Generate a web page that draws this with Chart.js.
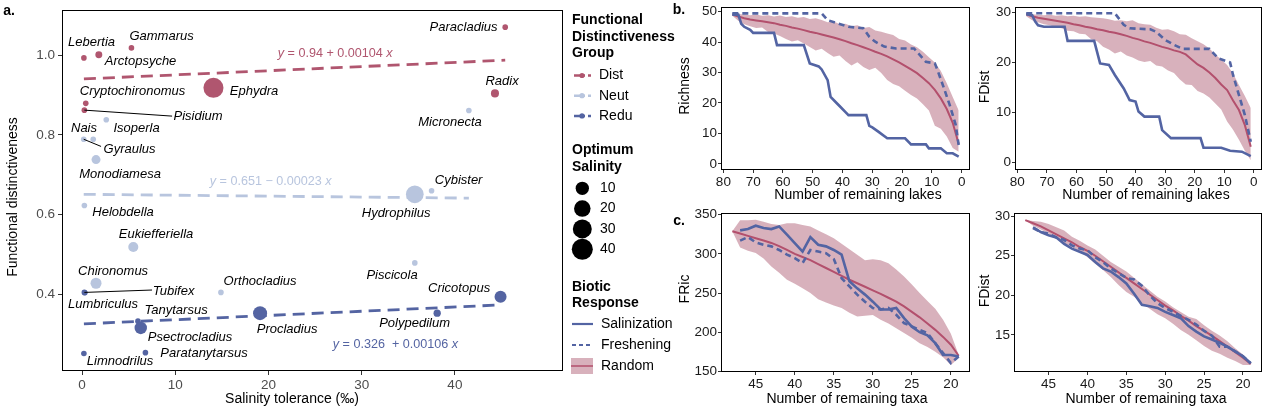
<!DOCTYPE html>
<html>
<head>
<meta charset="utf-8">
<script src="https://cdn.jsdelivr.net/npm/chart.js@4.4.1/dist/chart.umd.min.js"></script>
<style>
  html, body { margin: 0; padding: 0; background: #fff; }
  #wrap { position: relative; width: 1267px; height: 406px; overflow: hidden; }
  #wrap canvas { position: absolute; }
</style>
</head>
<body>
<div id="wrap">
  <canvas id="chartA" width="700" height="406" style="left:0;top:0"></canvas>
  <canvas id="chartB1" width="310" height="205" style="left:665px;top:0"></canvas>
  <canvas id="chartB2" width="299" height="205" style="left:968px;top:0"></canvas>
  <canvas id="chartC1" width="310" height="211" style="left:665px;top:195px"></canvas>
  <canvas id="chartC2" width="299" height="211" style="left:968px;top:195px"></canvas>
</div>
<script>
// ---- panel a: taxa ----
const taxa = ['Lebertia', 'Arctopsyche', 'Gammarus', 'Paracladius', 'Ephydra', 'Cryptochironomus', 'Pisidium', 'Radix',
  'Micronecta', 'Isoperla', 'Gyraulus', 'Nais', 'Monodiamesa', 'Hydrophilus', 'Cybister', 'Helobdella', 'Eukiefferiella',
  'Chironomus', 'Orthocladius', 'Piscicola',
  'Tubifex', 'Lumbriculus', 'Tanytarsus', 'Psectrocladius', 'Procladius', 'Polypedilum', 'Cricotopus', 'Limnodrilus', 'Paratanytarsus'];
const fdGroup = ['Dist', 'Dist', 'Dist', 'Dist', 'Dist', 'Dist', 'Dist', 'Dist',
  'Neut', 'Neut', 'Neut', 'Neut', 'Neut', 'Neut', 'Neut', 'Neut', 'Neut', 'Neut', 'Neut', 'Neut',
  'Redu', 'Redu', 'Redu', 'Redu', 'Redu', 'Redu', 'Redu', 'Redu', 'Redu'];
const salTolerance = [0.2, 1.8, 5.3, 45.4, 14.1, 0.4, 0.25, 44.3,
  41.5, 2.6, 0.18, 1.2, 1.5, 35.7, 37.5, 0.25, 5.5, 1.5, 14.9, 35.7,
  0.25, 0.3, 6.0, 6.3, 19.1, 38.1, 44.9, 0.2, 6.8];
const funcDist = [0.993, 1.001, 1.018, 1.070, 0.918, 0.879, 0.862, 0.904,
  0.861, 0.838, 0.789, 0.789, 0.738, 0.651, 0.660, 0.623, 0.519, 0.428, 0.405, 0.479,
  0.405, 0.404, 0.333, 0.316, 0.353, 0.353, 0.394, 0.252, 0.254];
const optSalinity = [0, 0.3, 0, 0, 35, 0, 0, 1,
  0, 0, 0, 0, 1.9, 24.6, 0, 0, 3.3, 4.9, 0, 0,
  0, 0, 0, 7.8, 11.9, 0.5, 6.9, 0, 0];
// label anchors (data units) and leader lines
const labelX = [1.02, 6.28, 8.53, 40.93, 18.45, 5.42, 12.45, 45.06,
  39.48, 5.85, 5.10, 0.21, 4.08, 33.69, 40.4, 4.40, 7.94, 3.33, 19.10, 33.26,
  9.82, 2.25, 10.09, 11.59, 22.0, 35.68, 40.45, 4.08, 13.09];
const labelY = [1.031, 0.983, 1.048, 1.070, 0.909, 0.909, 0.847, 0.934,
  0.832, 0.817, 0.764, 0.817, 0.702, 0.603, 0.685, 0.605, 0.550, 0.458, 0.433, 0.448,
  0.408, 0.376, 0.359, 0.292, 0.312, 0.327, 0.416, 0.232, 0.252];
const leaderTo = { Pisidium: [9.66, 0.847], Gyraulus: [2.04, 0.771], Tubifex: [7.51, 0.411] };

// regression fits
const fitGroups = ['Dist', 'Neut', 'Redu'];
const fitIntercept = [0.94, 0.651, 0.326];
const fitSlope = [0.00104, -0.00023, 0.00106];
const fitText = [' = 0.94 + 0.00104 ', ' = 0.651 \u2212 0.00023 ', ' = 0.326  + 0.00106 '];
const fitLabelX = [21.0, 13.7, 26.9];
const fitLabelY = [1.004, 0.682, 0.275];

const sizeBreaks = [10, 20, 30, 40];
const aTicksX = [0, 10, 20, 30, 40];
const aTicksY = [0.4, 0.6, 0.8, 1.0];

// ---- panel b: lakes removed ----
const salB1X = [77, 75, 74, 73, 71, 70, 63, 62, 53, 51, 48, 47, 45, 44, 42, 41, 39, 38, 32, 31, 30, 28, 25, 19, 17, 12, 11, 7, 5, 3, 1];
const salB1Y = [49, 49, 46, 45, 44, 43, 43, 39, 39, 33, 32, 31, 27.5, 22, 20, 19, 17, 16, 16, 12.5, 12, 10.6, 8.4, 8.4, 6.4, 6.4, 5.1, 5.1, 3.5, 3.5, 2.4];
const freshB1X = [77, 47, 45, 38, 33, 31, 29, 26, 22, 16, 14, 12, 9, 8, 6, 4, 2, 1];
const freshB1Y = [49.4, 49.4, 47.2, 45, 44.5, 41.7, 40.1, 38.5, 37.9, 37.9, 35.7, 33.5, 33, 30.5, 25, 19.3, 12.8, 6.2];
const lakesX = [77, 75, 73, 71, 69, 67, 65, 63, 61, 59, 57, 55, 53, 51, 49, 47, 45, 43, 41, 39, 37, 35, 33, 31, 29, 27, 25, 23, 21, 19, 17, 15, 13, 11, 9, 7, 5, 3, 1];
const meanB1 = [49, 48.4, 47.8, 47.4, 47.1, 46.8, 46.5, 46.2, 45.7, 45.3, 44.8, 44.4, 43.9, 43.4, 43, 42.5, 42, 41.5, 40.9, 40.3, 39.6, 39, 38.3, 37.6, 36.8, 36.1, 35.3, 34.3, 33.3, 32.2, 31, 29.8, 28.2, 26.5, 24.3, 21.5, 18, 13.5, 6.5];
const upB1 = [49.3, 49.2, 49, 48.8, 49, 48.6, 48.8, 48.4, 48.7, 48.2, 48.5, 48, 48.2, 47.6, 47.8, 47.2, 46.5, 46.8, 45.8, 46, 45.2, 45.5, 44.6, 44.9, 43.8, 43.4, 42.8, 42.3, 41, 40.5, 39.2, 38.3, 36.8, 35, 33.3, 30.5, 26.5, 22, 17.5];
const loB1 = [48.6, 47, 45.8, 45.2, 44.6, 44.8, 43.3, 42.8, 42, 41, 40.2, 40.6, 39.5, 38.4, 37.2, 37.8, 36.4, 35.2, 35.6, 33.8, 32.3, 33.4, 31.8, 30.8, 31.6, 29.8, 27.5, 26.2, 25.5, 24, 22.6, 21.5, 19.6, 17.5, 12.5, 11.5, 9, 5.2, 4];

const salB2X = [77, 75, 74, 73, 71, 64, 63, 54, 52, 49, 47, 44, 42, 40, 39, 37, 32, 31, 28, 18, 17, 11, 8, 4, 1];
const salB2Y = [29.6, 29.4, 28.2, 27.4, 27.1, 27.1, 24.3, 24.3, 19.8, 19.5, 17.5, 14.8, 12.5, 12.2, 10.2, 9.2, 9.2, 6.5, 4.9, 4.9, 3, 3, 2.4, 2.2, 1.3];
const freshB2X = [77, 47, 44, 42, 35, 33, 30, 27, 24, 15, 12, 8, 7, 5, 3, 1];
const freshB2Y = [29.8, 29.8, 27.5, 26.8, 26.6, 26.1, 24.5, 23.5, 22.7, 22.7, 20.8, 20, 17.5, 13.5, 9.5, 4.2];
const meanB2 = [29.6, 29.2, 28.9, 28.7, 28.5, 28.3, 28.1, 27.9, 27.6, 27.4, 27.1, 26.9, 26.6, 26.4, 26.1, 25.9, 25.6, 25.3, 24.9, 24.6, 24.2, 23.9, 23.5, 23.1, 22.8, 22.4, 22.1, 21.6, 20.6, 19.6, 18.9, 18, 16.9, 15.6, 14.5, 12.4, 10.5, 7.5, 3.2];
const upB2 = [29.8, 29.6, 29.5, 29.4, 29.5, 29.3, 29.4, 29.2, 29.3, 29.1, 29.2, 29, 28.9, 28.8, 28.6, 28.3, 28.4, 28.2, 28.4, 27.8, 27.6, 27.5, 26.9, 26.5, 26.6, 26.2, 25.6, 25.5, 24.8, 24.2, 23.6, 22.8, 21.6, 20.6, 19.5, 17.8, 15.5, 13.3, 10.9];
const loB2 = [29.2, 28.4, 28, 27.6, 27.4, 27, 26.8, 26.3, 26.2, 25.7, 25.6, 24.6, 24.2, 23.1, 22.6, 21.8, 22.2, 21.4, 21, 20.4, 20.1, 20.3, 19.4, 19.2, 18.4, 17.9, 16.6, 15.6, 15.5, 14.3, 13.8, 13, 11.8, 10.6, 8.2, 6.6, 4.6, 2.4, 0.5];

// ---- panel c: taxa removed ----
const taxaX = [48, 47, 46, 45, 44, 43, 42, 41, 40, 39, 38, 37, 36, 35, 34, 33, 32, 31, 30, 29, 28, 27, 26, 25, 24, 23, 22, 21, 20, 19];
const taxaX47 = [47, 46, 45, 44, 43, 42, 41, 40, 39, 38, 37, 36, 35, 34, 33, 32, 31, 30, 29, 28, 27, 26, 25, 24, 23, 22, 21, 20, 19];
const salC1 = [330, 331.7, 336, 333, 331.7, 335, 324.5, 313.8, 303, 321.5, 311.7, 309.6, 305, 299, 265, 256, 248, 239, 229, 229, 231, 218, 207, 200, 196, 186, 171, 171, 169];
const freshC1 = [317, 321.5, 314.7, 311.7, 309.6, 305, 299, 294.7, 288.3, 305, 303, 301, 293.4, 269, 258.5, 248, 239, 231, 229, 231, 222.3, 211.7, 207.4, 203, 199, 186, 173.4, 160.6, 169];
const meanC1 = [329, 326, 323, 320, 317, 314, 310, 305, 300, 296, 292, 287, 282, 277, 272, 267, 262.5, 258, 253.5, 249, 244, 239, 233, 226, 219, 211, 203, 194, 184, 170];
const upC1 = [329, 343, 343, 343.5, 341, 338, 337, 339, 339, 337, 335, 330, 325, 320, 313, 306, 299, 292, 293, 292, 288, 280, 271, 261, 250, 240, 230, 216, 198, 171];
const loC1 = [329, 308, 304, 301, 294, 284, 276, 267, 262, 256, 250, 242, 238, 234, 231, 225, 220, 221, 222, 216, 211, 205, 199, 193, 186, 181, 175, 168, 158, 167];

const salC2 = [28.6, 28, 27.6, 27.3, 26.5, 25.9, 25.5, 25.1, 24.2, 23.4, 23, 22.3, 21.5, 20.2, 18.8, 18.6, 18.4, 17.9, 17.5, 17.1, 16.1, 15.4, 14.8, 14.4, 14, 13.5, 12.9, 12.3, 11.4];
const freshC2 = [28.5, 28, 27.8, 27.3, 27, 26.3, 25.9, 25.7, 24.8, 24.2, 23.4, 22.8, 22.2, 22, 21.2, 20, 19, 18.4, 17.9, 17.4, 16.9, 16.3, 15.5, 14.9, 13.5, 13.5, 12.9, 12.3, 11.4];
const meanC2 = [29.5, 29.1, 28.7, 28.2, 27.7, 27.2, 26.7, 26.1, 25.6, 25, 24.3, 23.6, 22.9, 22.2, 21.5, 20.8, 20.1, 19.4, 18.7, 18.1, 17.4, 16.8, 16.1, 15.5, 14.9, 14.2, 13.5, 12.8, 12.1, 11.3];
const upC2 = [29.5, 29.4, 29.3, 29, 28.6, 28.2, 27.4, 26.9, 26.3, 25.8, 25, 24.2, 23.6, 23, 22.2, 21.4, 20.6, 19.8, 19.2, 18.5, 17.9, 17.3, 17, 16.2, 15.5, 14.9, 14.2, 13.3, 12.5, 11.3];
const loC2 = [29.5, 28.8, 28.3, 27.8, 27.2, 26.6, 26.1, 25.6, 24.8, 24, 23.2, 22.3, 21.3, 20.4, 19.8, 19, 18.3, 17.6, 17.1, 16.4, 15.6, 15, 14.3, 13.6, 13, 12.6, 12.1, 11.7, 11.2, 11.2];

const lakeTicks = [80, 70, 60, 50, 40, 30, 20, 10, 0];
const taxaTicks = [45, 40, 35, 30, 25, 20];

// ---- styles ----
const FONT = "'Liberation Sans', Arial, Helvetica, sans-serif";
const groupColor = { Dist: '#b0566f', Neut: '#b8c5de', Redu: '#5464a2' };
const BLUE = '#5364a3';
const RED = '#b3506d';
const BAND = 'rgba(170, 84, 110, 0.46)';

Chart.defaults.font.family = FONT;
Chart.defaults.animation = false;

function pts(xs, ys) { return xs.map((x, i) => ({ x: x, y: ys[i] })); }
function sizeOf(v) { return 2.8 + 1.22 * Math.sqrt(v); }

function axis(o) {
  return {
    type: 'linear', reverse: !!o.reverse, min: o.min, max: o.max,
    afterBuildTicks: s => { s.ticks = o.ticks.map(v => ({ value: v })); },
    afterFit: s => {
      if (o.w !== undefined) s.width = o.w;
      if (o.h !== undefined) s.height = o.h;
      s.paddingTop = 0; s.paddingBottom = 0; s.paddingLeft = 0; s.paddingRight = 0;
    },
    grid: { display: true, drawOnChartArea: false, drawTicks: true, tickLength: o.tl || 3, color: '#333', lineWidth: 1 },
    border: { display: false },
    ticks: { padding: o.pad || 2, color: o.color || '#1a1a1a', font: { size: 13.5 }, autoSkip: false, maxRotation: 0,
      callback: o.fmt || (v => String(v)) }
  };
}

function frame(chart) {
  const a = chart.chartArea, ctx = chart.ctx;
  ctx.save();
  ctx.strokeStyle = '#000';
  ctx.lineWidth = 1;
  ctx.strokeRect(Math.round(a.left) + 0.5, Math.round(a.top) + 0.5, Math.round(a.right - a.left) - 1, Math.round(a.bottom - a.top) - 1);
  ctx.restore();
}

function vtext(ctx, s, x, y) {
  ctx.save(); ctx.translate(x, y); ctx.rotate(-Math.PI / 2); ctx.fillText(s, 0, 0); ctx.restore();
}

// ---- panel a ----
const scatterSets = fitGroups.map(g => {
  const idx = taxa.map((t, i) => i).filter(i => fdGroup[i] === g);
  return {
    label: g,
    data: idx.map(i => ({ x: salTolerance[i], y: funcDist[i] })),
    pointRadius: c => sizeOf(optSalinity[idx[c.dataIndex]]),
    pointBackgroundColor: groupColor[g],
    pointBorderWidth: 0,
    showLine: false,
    order: 1
  };
});
const fitSets = fitGroups.map((g, k) => {
  const xs = taxa.map((t, i) => i).filter(i => fdGroup[i] === g).map(i => salTolerance[i]);
  const x0 = Math.min.apply(null, xs), x1 = Math.max.apply(null, xs);
  return {
    label: g + ' fit',
    data: [x0, x1].map(x => ({ x: x, y: fitIntercept[k] + fitSlope[k] * x })),
    showLine: true, pointRadius: 0, borderColor: groupColor[g], borderWidth: 2.8,
    borderDash: [12, 7], order: 2
  };
});

const panelAPlugin = {
  id: 'panelA',
  afterDatasetsDraw(chart) {
    const ctx = chart.ctx, sx = chart.scales.x, sy = chart.scales.y;
    ctx.save();
    ctx.strokeStyle = '#000'; ctx.lineWidth = 1;
    taxa.forEach((t, i) => {
      const c = leaderTo[t];
      if (!c) return;
      ctx.beginPath();
      ctx.moveTo(sx.getPixelForValue(salTolerance[i]), sy.getPixelForValue(funcDist[i]));
      ctx.lineTo(sx.getPixelForValue(c[0]), sy.getPixelForValue(c[1]));
      ctx.stroke();
    });
    ctx.font = 'italic 13px ' + FONT;
    ctx.fillStyle = '#000'; ctx.textAlign = 'center'; ctx.textBaseline = 'middle';
    taxa.forEach((t, i) => ctx.fillText(t, sx.getPixelForValue(labelX[i]), sy.getPixelForValue(labelY[i])));
    ctx.textAlign = 'left';
    fitGroups.forEach((g, i) => {
      let x = sx.getPixelForValue(fitLabelX[i]);
      const y = sy.getPixelForValue(fitLabelY[i]);
      ctx.fillStyle = groupColor[g];
      [['y', true], [fitText[i], false], ['x', true]].forEach(p => {
        ctx.font = (p[1] ? 'italic ' : '') + '12.6px ' + FONT;
        ctx.fillText(p[0], x, y);
        x += ctx.measureText(p[0]).width;
      });
    });
    ctx.restore();
  },
  afterDraw(chart) {
    frame(chart);
    const ctx = chart.ctx;
    ctx.save();
    ctx.fillStyle = '#000'; ctx.textBaseline = 'middle'; ctx.textAlign = 'center';
    ctx.font = '14px ' + FONT;
    ctx.fillText('Salinity tolerance (\u2030)', 292, 399);
    vtext(ctx, 'Functional distinctiveness', 13, 197);
    ctx.font = 'bold 14px ' + FONT;
    ctx.fillText('a.', 9, 11);

    // legend
    ctx.textAlign = 'left';
    ['Functional', 'Distinctiveness', 'Group'].forEach((t, i) => ctx.fillText(t, 572, 20 + i * 16.7));
    fitGroups.forEach((g, i) => {
      const y = 75.5 + i * 20.2;
      ctx.strokeStyle = groupColor[g]; ctx.lineWidth = 2.5; ctx.setLineDash([11, 3]);
      ctx.beginPath(); ctx.moveTo(574, y); ctx.lineTo(591, y); ctx.stroke();
      ctx.setLineDash([]);
      ctx.fillStyle = groupColor[g];
      ctx.beginPath(); ctx.arc(582, y, 2.6, 0, 2 * Math.PI); ctx.fill();
      ctx.fillStyle = '#000'; ctx.font = '14px ' + FONT;
      ctx.fillText(g, 599, y);
    });
    ctx.font = 'bold 14px ' + FONT;
    ctx.fillText('Optimum', 572, 150);
    ctx.fillText('Salinity', 572, 166.7);
    sizeBreaks.forEach((v, i) => {
      const y = 188.3 + i * 20.3;
      ctx.fillStyle = '#000';
      ctx.beginPath(); ctx.arc(582.3, y, sizeOf(v), 0, 2 * Math.PI); ctx.fill();
      ctx.font = '14px ' + FONT;
      ctx.fillText(String(v), 600, y);
    });
    ctx.font = 'bold 14px ' + FONT;
    ctx.fillText('Biotic', 572, 286.7);
    ctx.fillText('Response', 572, 303.3);
    ctx.font = '14px ' + FONT;
    ctx.strokeStyle = BLUE; ctx.lineWidth = 2.2;
    ctx.beginPath(); ctx.moveTo(572, 324); ctx.lineTo(593, 324); ctx.stroke();
    ctx.setLineDash([4, 3]);
    ctx.beginPath(); ctx.moveTo(572, 345); ctx.lineTo(593, 345); ctx.stroke();
    ctx.setLineDash([]);
    ctx.fillStyle = BAND; ctx.fillRect(571, 358, 22, 16);
    ctx.strokeStyle = RED; ctx.lineWidth = 1.5;
    ctx.beginPath(); ctx.moveTo(571, 366); ctx.lineTo(593, 366); ctx.stroke();
    ctx.fillStyle = '#000';
    ctx.fillText('Salinization', 601, 324);
    ctx.fillText('Freshening', 601, 345);
    ctx.fillText('Random', 601, 366);
    ctx.restore();
  }
};

new Chart(document.getElementById('chartA'), {
  type: 'scatter',
  data: { datasets: scatterSets.concat(fitSets) },
  options: {
    responsive: false, events: [],
    layout: { padding: { top: 7, right: 137, left: 0, bottom: 0 } },
    plugins: { legend: { display: false }, tooltip: { enabled: false } },
    scales: {
      x: axis({ min: -2.15, max: 51.6, ticks: aTicksX, h: 35, color: '#4d4d4d', tl: 4, pad: 2 }),
      y: axis({ min: 0.208, max: 1.113, ticks: aTicksY, w: 62, color: '#4d4d4d', tl: 4, pad: 3, fmt: v => v.toFixed(1) })
    }
  },
  plugins: [panelAPlugin]
});

// ---- panels b & c ----
function curvePanel(id, o) {
  new Chart(document.getElementById(id), {
    type: 'line',
    data: { datasets: [
      { label: 'Salinization', data: o.sal, borderColor: BLUE, borderWidth: 2.6, pointRadius: 0, tension: 0, fill: false, order: 1 },
      { label: 'Freshening', data: o.fresh, borderColor: BLUE, borderWidth: 2.6, borderDash: [6, 4], pointRadius: 0, tension: 0, fill: false, order: 2 },
      { label: 'Random', data: o.mean, borderColor: RED, borderWidth: 2, pointRadius: 0, tension: 0, fill: false, order: 3 },
      { label: 'lower', data: o.lo, borderWidth: 0, borderColor: 'rgba(0,0,0,0)', pointRadius: 0, tension: 0, fill: false, order: 5 },
      { label: 'upper', data: o.hi, borderWidth: 0, borderColor: 'rgba(0,0,0,0)', pointRadius: 0, tension: 0, fill: '-1', backgroundColor: BAND, order: 4 }
    ] },
    options: {
      responsive: false, events: [],
      layout: { padding: { top: o.padTop, right: 5, left: 0, bottom: 0 } },
      plugins: { legend: { display: false }, tooltip: { enabled: false } },
      scales: {
        x: axis({ reverse: true, min: o.xMin, max: o.xMax, ticks: o.xTicks, h: o.xh, pad: 1 }),
        y: axis({ min: o.yMin, max: o.yMax, ticks: o.yTicks, w: o.yw, pad: 1 })
      }
    },
    plugins: [{
      id: 'decor',
      afterDraw(chart) {
        frame(chart);
        const ctx = chart.ctx;
        ctx.save();
        ctx.fillStyle = '#000'; ctx.textAlign = 'center'; ctx.textBaseline = 'middle';
        ctx.font = '14px ' + FONT;
        ctx.fillText(o.xTitle, o.xt[0] - o.left, o.xt[1] - o.top);
        vtext(ctx, o.yTitle, o.yt[0] - o.left, o.yt[1] - o.top);
        if (o.tag) {
          ctx.font = 'bold 14px ' + FONT;
          ctx.fillText(o.tag, o.tagPos[0] - o.left, o.tagPos[1] - o.top);
        }
        ctx.restore();
      }
    }]
  });
}

curvePanel('chartB1', {
  left: 665, top: 0, padTop: 7, xh: 35, yw: 56,
  sal: pts(salB1X, salB1Y), fresh: pts(freshB1X, freshB1Y), mean: pts(lakesX, meanB1), lo: pts(lakesX, loB1), hi: pts(lakesX, upB1),
  xMin: -2.8, xMax: 80.8, xTicks: lakeTicks, yMin: -2, yMax: 51.5, yTicks: [0, 10, 20, 30, 40, 50],
  xTitle: 'Number of remaining lakes', xt: [858, 195], yTitle: 'Richness', yt: [685, 86], tag: 'b.', tagPos: [679, 10]
});
curvePanel('chartB2', {
  left: 968, top: 0, padTop: 7, xh: 35, yw: 47,
  sal: pts(salB2X, salB2Y), fresh: pts(freshB2X, freshB2Y), mean: pts(lakesX, meanB2), lo: pts(lakesX, loB2), hi: pts(lakesX, upB2),
  xMin: -2.8, xMax: 80.8, xTicks: lakeTicks, yMin: -1.45, yMax: 31.05, yTicks: [0, 10, 20, 30],
  xTitle: 'Number of remaining lakes', xt: [1146, 195], yTitle: 'FDist', yt: [985, 87]
});
curvePanel('chartC1', {
  left: 665, top: 195, padTop: 18, xh: 34, yw: 56,
  sal: pts(taxaX47, salC1), fresh: pts(taxaX47, freshC1), mean: pts(taxaX, meanC1), lo: pts(taxaX, loC1), hi: pts(taxaX, upC1),
  xMin: 17.55, xMax: 49.45, xTicks: taxaTicks, yMin: 149.2, yMax: 352.2, yTicks: [150, 200, 250, 300, 350],
  xTitle: 'Number of remaining taxa', xt: [847, 399], yTitle: 'FRic', yt: [685, 289], tag: 'c.', tagPos: [679, 221]
});
curvePanel('chartC2', {
  left: 968, top: 195, padTop: 18, xh: 34, yw: 46,
  sal: pts(taxaX47, salC2), fresh: pts(taxaX47, freshC2), mean: pts(taxaX, meanC2), lo: pts(taxaX, loC2), hi: pts(taxaX, upC2),
  xMin: 17.55, xMax: 49.45, xTicks: taxaTicks, yMin: 10.3, yMax: 30.4, yTicks: [15, 20, 25, 30],
  xTitle: 'Number of remaining taxa', xt: [1146, 399], yTitle: 'FDist', yt: [985, 291]
});
</script>
</body>
</html>
